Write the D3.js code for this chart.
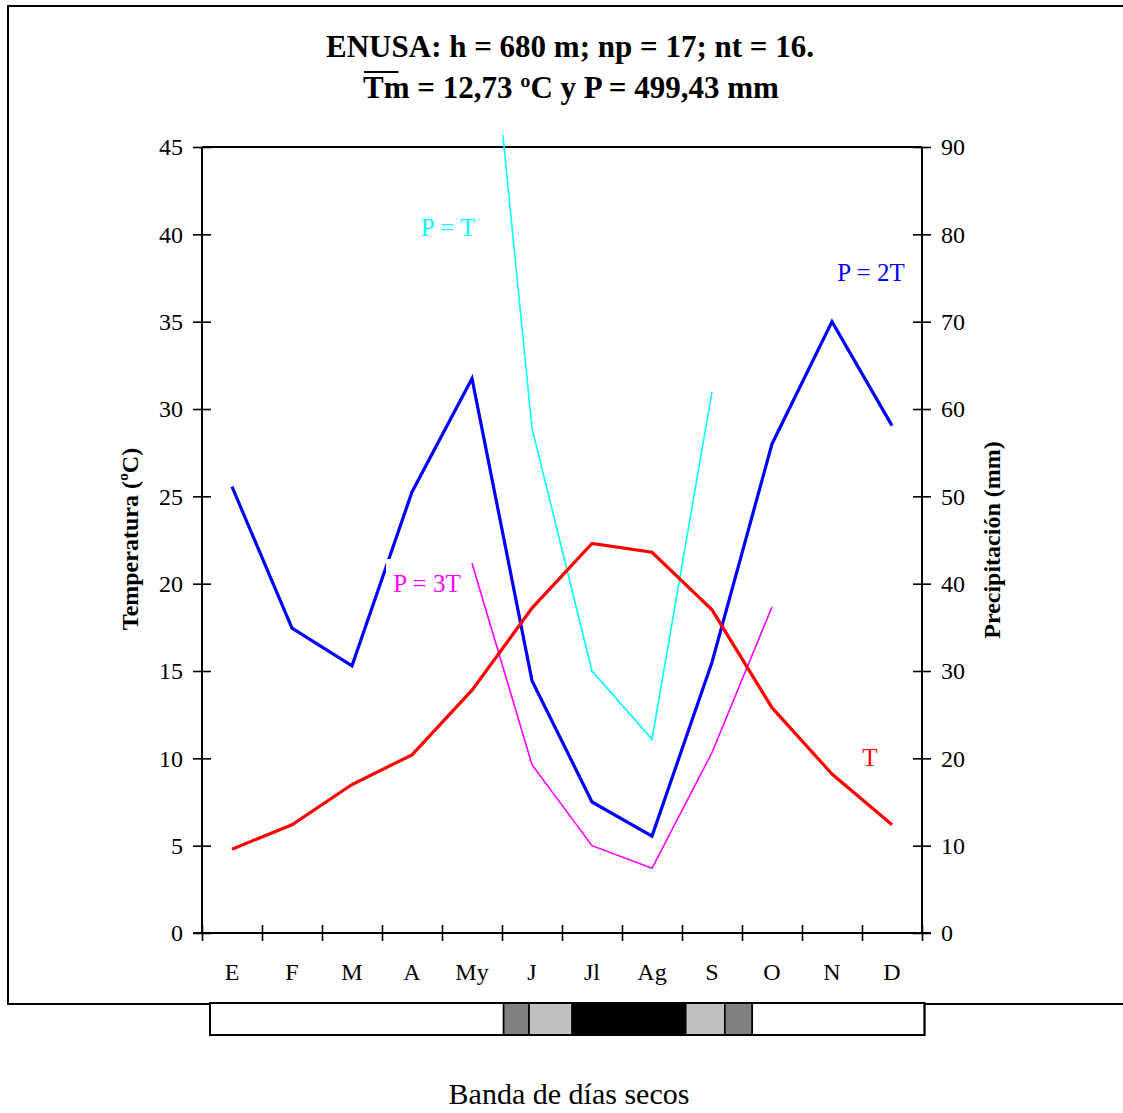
<!DOCTYPE html>
<html>
<head>
<meta charset="utf-8">
<script src="https://cdn.jsdelivr.net/npm/d3@7/dist/d3.min.js"></script>
<style>
  body { margin: 0; background: #fff; }
  text { font-family: "Liberation Serif", "Times New Roman", serif; }
</style>
</head>
<body>
<svg id="chart" width="1123" height="1113"></svg>
<script>
// Monthly climate data for ENUSA
const months = ["E", "F", "M", "A", "My", "J", "Jl", "Ag", "S", "O", "N", "D"];
const temperature = [4.8, 6.2, 8.5, 10.2, 13.9, 18.6, 22.3, 21.8, 18.5, 12.9, 9.1, 6.2];      // ºC
const precipitation = [51.1, 34.9, 30.6, 50.5, 63.5, 28.9, 15.0, 11.1, 31.0, 56.0, 70.0, 58.1]; // mm
const tempTicks = [0, 5, 10, 15, 20, 25, 30, 35, 40, 45];
const precTicks = [0, 10, 20, 30, 40, 50, 60, 70, 80, 90];
// Months over which the P = T and P = 3T reference curves are drawn
const pEqualsTMonths = ["My", "J", "Jl", "Ag", "S"];
const pEquals3TMonths = ["My", "J", "Jl", "Ag", "S", "O"];
// Dry-days band: day-of-year breakpoints and the dryness class of each stretch
const dryBreaks = [0, 150, 163, 185, 243, 263, 277, 365];
const dryClasses = ["humedo", "subseco", "semiseco", "seco", "semiseco", "subseco", "humedo"];
const dryColors = { humedo: "#ffffff", subseco: "#808080", semiseco: "#c0c0c0", seco: "#000000" };

const svg = d3.select("#chart");
const W = 1123, H = 1113;
const plot = { left: 202, right: 922, top: 147, bottom: 933 };

svg.append("rect").attr("width", W).attr("height", H).attr("fill", "#fff");

// Outer frame of the chart area
svg.append("rect")
  .attr("x", 8).attr("y", 6).attr("width", 1140).attr("height", 998)
  .attr("fill", "none").attr("stroke", "#000").attr("stroke-width", 2);

const x = d3.scaleBand().domain(months).range([plot.left, plot.right]).padding(0);
const xc = m => x(m) + x.bandwidth() / 2;
const xEdges = d3.scaleLinear().domain([0, 12]).range([plot.left, plot.right]);
const yT = d3.scaleLinear().domain([0, 45]).range([plot.bottom, plot.top]);
const yP = d3.scaleLinear().domain([0, 90]).range([plot.bottom, plot.top]);

// Title
const title = svg.append("g").attr("font-weight", "bold").attr("font-size", 31).attr("text-anchor", "middle");
title.append("text").attr("x", 570).attr("y", 57).text("ENUSA: h = 680 m; np = 17; nt = 16.");
const t2 = title.append("text").attr("x", 571).attr("y", 98).text("Tm = 12,73 ºC y P = 499,43 mm");
{
  const node = t2.node();
  const s = node.getStartPositionOfChar(0);
  const w = node.getSubStringLength(0, 2);
  title.append("line")
    .attr("x1", s.x + 1).attr("x2", s.x + 1 + w * 0.74)
    .attr("y1", 72).attr("y2", 72)
    .attr("stroke", "#000").attr("stroke-width", 2);
}

// Plot top border
svg.append("line")
  .attr("x1", plot.left).attr("x2", plot.right)
  .attr("y1", plot.top).attr("y2", plot.top)
  .attr("stroke", "#000").attr("stroke-width", 2);

// Left axis (temperature)
const axL = svg.append("g").attr("transform", `translate(${plot.left},0)`)
  .call(d3.axisLeft(yT).tickValues(tempTicks).tickSize(9).tickPadding(10));
axL.selectAll(".tick line").attr("x1", 9);
// Right axis (precipitation)
const axR = svg.append("g").attr("transform", `translate(${plot.right},0)`)
  .call(d3.axisRight(yP).tickValues(precTicks).tickSize(9).tickPadding(10));
axR.selectAll(".tick line").attr("x1", -9);
// Bottom axis with tick marks on month boundaries
const axB = svg.append("g").attr("transform", `translate(0,${plot.bottom})`)
  .call(d3.axisBottom(xEdges).tickValues(d3.range(0, 13)).tickSize(8).tickFormat(""));
axB.selectAll(".tick line").attr("y1", -8);

[axL, axR, axB].forEach(a => {
  a.select(".domain").attr("stroke-width", 2);
  a.selectAll(".tick line").attr("stroke-width", 1.6);
  a.selectAll(".tick text").attr("font-size", 24).attr("font-family", "Liberation Serif, serif").attr("fill", "#000");
});
axL.select(".domain").attr("d", `M0,${plot.top}V${plot.bottom}`);
axR.select(".domain").attr("d", `M0,${plot.top}V${plot.bottom}`);
axB.select(".domain").attr("d", `M${plot.left - 9},0H${plot.right + 9}`);

// Month labels
svg.append("g").attr("font-size", 24).attr("text-anchor", "middle")
  .selectAll("text").data(months).join("text")
  .attr("x", d => xc(d)).attr("y", 980).text(d => d);

// Axis titles
svg.append("text").attr("font-weight", "bold").attr("font-size", 24).attr("text-anchor", "middle")
  .attr("transform", "translate(138,539) rotate(-90)").text("Temperatura (ºC)");
svg.append("text").attr("font-weight", "bold").attr("font-size", 24).attr("text-anchor", "middle")
  .attr("transform", "translate(1000,540) rotate(-90)").text("Precipitación (mm)");

// Reference curves, clipped just above the plot top
svg.append("clipPath").attr("id", "clip")
  .append("rect").attr("x", 0).attr("y", 135).attr("width", W).attr("height", plot.bottom - 135);

const idx = m => months.indexOf(m);
const lineGen = d3.line();

// P = T: precipitation read on the temperature scale
svg.append("path").attr("clip-path", "url(#clip)")
  .attr("d", lineGen(pEqualsTMonths.map(m => [xc(m), yT(precipitation[idx(m)])])))
  .attr("fill", "none").attr("stroke", "#00ffff").attr("stroke-width", 1.6);
// P = 3T
svg.append("path").attr("clip-path", "url(#clip)")
  .attr("d", lineGen(pEquals3TMonths.map(m => [xc(m), yT(precipitation[idx(m)] / 3)])))
  .attr("fill", "none").attr("stroke", "#ff00ff").attr("stroke-width", 1.6);

// Precipitation (P = 2T)
svg.append("path")
  .attr("d", lineGen(months.map((m, i) => [xc(m), yP(precipitation[i])])))
  .attr("fill", "none").attr("stroke", "#0000ff").attr("stroke-width", 3.2).attr("stroke-linejoin", "miter");
// Temperature
svg.append("path")
  .attr("d", lineGen(months.map((m, i) => [xc(m), yT(temperature[i])])))
  .attr("fill", "none").attr("stroke", "#ff0000").attr("stroke-width", 3.2).attr("stroke-linejoin", "miter");

// Curve labels
svg.append("text").attr("x", 448).attr("y", 236).attr("font-size", 25).attr("text-anchor", "middle")
  .attr("fill", "#00ffff").text("P = T");
svg.append("text").attr("x", 871).attr("y", 281).attr("font-size", 25).attr("text-anchor", "middle")
  .attr("fill", "#0000ff").text("P = 2T");
svg.append("rect").attr("x", 386).attr("y", 559).attr("width", 80).attr("height", 40).attr("fill", "#fff");
svg.append("text").attr("x", 427).attr("y", 592).attr("font-size", 25).attr("text-anchor", "middle")
  .attr("fill", "#ff00ff").text("P = 3T");
svg.append("text").attr("x", 870).attr("y", 766).attr("font-size", 25).attr("text-anchor", "middle")
  .attr("fill", "#ff0000").text("T");

// Dry-days band
const xd = d3.scaleLinear().domain([0, 365]).range([210, 924.5]);
const band = svg.append("g");
band.selectAll("rect").data(dryClasses).join("rect")
  .attr("x", (d, i) => xd(dryBreaks[i]))
  .attr("width", (d, i) => xd(dryBreaks[i + 1]) - xd(dryBreaks[i]))
  .attr("y", 1003).attr("height", 32)
  .attr("fill", d => dryColors[d])
  .attr("stroke", "#000").attr("stroke-width", 1.6);
band.append("rect").attr("x", xd(0)).attr("width", xd(365) - xd(0))
  .attr("y", 1003).attr("height", 32)
  .attr("fill", "none").attr("stroke", "#000").attr("stroke-width", 2);

svg.append("text").attr("x", 569).attr("y", 1104).attr("font-size", 30).attr("text-anchor", "middle")
  .text("Banda de días secos");
</script>
</body>
</html>
